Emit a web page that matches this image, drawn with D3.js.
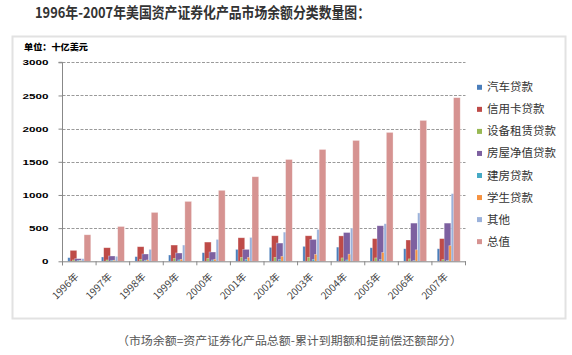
<!DOCTYPE html>
<html><head><meta charset="utf-8">
<script src="https://cdn.jsdelivr.net/npm/d3@7"></script>
<style>
html,body{margin:0;padding:0;background:#fff;}
svg{display:block;}
</style></head>
<body>
<script>
const years = ["1996年","1997年","1998年","1999年","2000年","2001年","2002年","2003年","2004年","2005年","2006年","2007年"];
const seriesNames = ["汽车贷款","信用卡贷款","设备租赁贷款","房屋净值贷款","建房贷款","学生贷款","其他","总值"];
const seriesColors = ["#4a7ebb","#be4b48","#98b954","#7d60a0","#46aac5","#f69240","#9bb2db","#d69391"];
const autoLoans      = [55, 65, 70, 95, 130, 180, 210, 225, 214, 204, 189, 189];
const creditCard     = [165, 205, 220, 245, 290, 355, 385, 385, 383, 342, 321, 342];
const equipLeasing   = [20, 20, 30, 45, 45, 60, 60, 60, 51, 51, 36, 25];
const homeEquity     = [40, 80, 110, 125, 140, 180, 275, 330, 434, 536, 576, 576];
const housing        = [15, 15, 15, 20, 20, 30, 25, 30, 20, 25, 10, 10];
const studentLoans   = [10, 15, 20, 30, 30, 60, 75, 105, 107, 133, 173, 235];
const otherLoans     = [40, 75, 180, 245, 330, 360, 440, 480, 500, 566, 729, 1020];
const totalValue     = [400, 525, 737, 903, 1070, 1275, 1535, 1686, 1822, 1943, 2124, 2467];
const yTicks = [0, 500, 1000, 1500, 2000, 2500, 3000];
const unitLabel = "单位：十亿美元";
const titleText = "1996年-2007年美国资产证券化产品市场余额分类数量图：";
const noteText = "（市场余额=资产证券化产品总额-累计到期额和提前偿还额部分）";

const seriesData = [autoLoans, creditCard, equipLeasing, homeEquity, housing, studentLoans, otherLoans, totalValue];

const W = 572, H = 355;
const svg = d3.select("body").append("svg").attr("width", W).attr("height", H);
const cjk = "'Noto Sans CJK SC','Noto Sans',sans-serif";

// title
svg.append("text").attr("x", 35).attr("y", 18)
  .attr("font-family", cjk).attr("font-weight", "bold").attr("font-size", 15)
  .attr("fill", "#333").attr("textLength", 335).attr("lengthAdjust", "spacingAndGlyphs")
  .text(titleText);

// frame
svg.append("rect").attr("x", 12.5).attr("y", 36.5).attr("width", 553).attr("height", 282)
  .attr("fill", "none").attr("stroke", "#e2e2e2").attr("stroke-width", 2);

// unit label
svg.append("text").attr("x", 24).attr("y", 50)
  .attr("font-family", cjk).attr("font-weight", "900").attr("font-size", 8.5)
  .attr("fill", "#000").attr("textLength", 64).attr("lengthAdjust", "spacingAndGlyphs")
  .text(unitLabel);

const x0 = 62.5, x1 = 465.5, yTop = 62.3, yBot = 261.3;
const x = d3.scaleBand().domain(years).range([x0, x1]).paddingInner(0).paddingOuter(0);
const y = d3.scaleLinear().domain([0, 3000]).range([yBot, yTop]);
const bw = x.bandwidth();
const barW = bw * 0.2;
const step = bw * 0.0694;
const groupW = 7 * step + barW;
const sx = d3.scaleLinear().domain([0, 7]).range([(bw - groupW) / 2, (bw - groupW) / 2 + 7 * step]);

// gridlines
svg.append("g").selectAll("line").data(yTicks.filter(d => d > 0)).join("line")
  .attr("x1", x0).attr("x2", x1).attr("y1", d => Math.round(y(d)) + 0.5).attr("y2", d => Math.round(y(d)) + 0.5)
  .attr("stroke", "#9a9a9a").attr("stroke-width", 1).attr("stroke-dasharray", "3,1.5");

// bars
seriesData.forEach((vals, si) => {
  svg.append("g").selectAll("rect").data(vals).join("rect")
    .attr("x", (d, i) => x(years[i]) + sx(si))
    .attr("y", d => y(d))
    .attr("width", barW)
    .attr("height", d => yBot - y(d))
    .attr("fill", seriesColors[si])
    .attr("stroke", "#ffffff").attr("stroke-opacity", 0.45).attr("stroke-width", 0.7);
});

// y axis
const yAxis = d3.axisLeft(y).tickValues(yTicks).tickSize(4).tickPadding(10).tickFormat(d3.format("d"));
const gy = svg.append("g").attr("transform", `translate(${x0},0)`).call(yAxis);
gy.select(".domain").attr("stroke", "#888").attr("d", `M-4,${yTop}H0V${yBot + 4}`);
gy.selectAll(".tick line").attr("stroke", "#888");
gy.selectAll(".tick text").attr("font-family", "'Liberation Sans',Arial,sans-serif")
  .attr("font-weight", "bold").attr("font-size", 7.5).attr("fill", "#000")
  .attr("dy", "0.35em")
  .each(function(d) { const s = String(d); d3.select(this).attr("textLength", s.length * 6.5).attr("lengthAdjust", "spacingAndGlyphs"); });

// x axis
const xAxis = d3.axisBottom(x).tickSize(0).tickSizeOuter(0);
const gx = svg.append("g").attr("transform", `translate(0,${yBot})`).call(xAxis);
gx.select(".domain").attr("stroke", "#888");
gx.selectAll(".tick text")
  .attr("font-family", cjk).attr("font-size", 10).attr("fill", "#404040")
  .attr("text-anchor", "end").attr("dy", 0).attr("y", 0)
  .attr("transform", "translate(0,16) rotate(-45)");
// boundary tick marks
const bounds = years.map(d => x(d)).concat([x1]);
svg.append("g").selectAll("line").data(bounds).join("line")
  .attr("x1", d => d).attr("x2", d => d).attr("y1", yBot).attr("y2", yBot + 4)
  .attr("stroke", "#888");

// legend
const lg = svg.append("g");
seriesNames.forEach((n, i) => {
  const cy = 87.3 + i * 22.05;
  lg.append("rect").attr("x", 477).attr("y", cy - 2.5).attr("width", 5).attr("height", 5).attr("fill", seriesColors[i]);
  lg.append("text").attr("x", 487).attr("y", cy + 4).attr("font-family", cjk)
    .attr("font-size", 11.5).attr("fill", "#333").text(n);
});

// note
svg.append("text").attr("x", 117).attr("y", 345)
  .attr("font-family", cjk).attr("font-size", 11.5).attr("fill", "#555")
  .attr("textLength", 345).attr("lengthAdjust", "spacingAndGlyphs")
  .text(noteText);
</script>
</body></html>
